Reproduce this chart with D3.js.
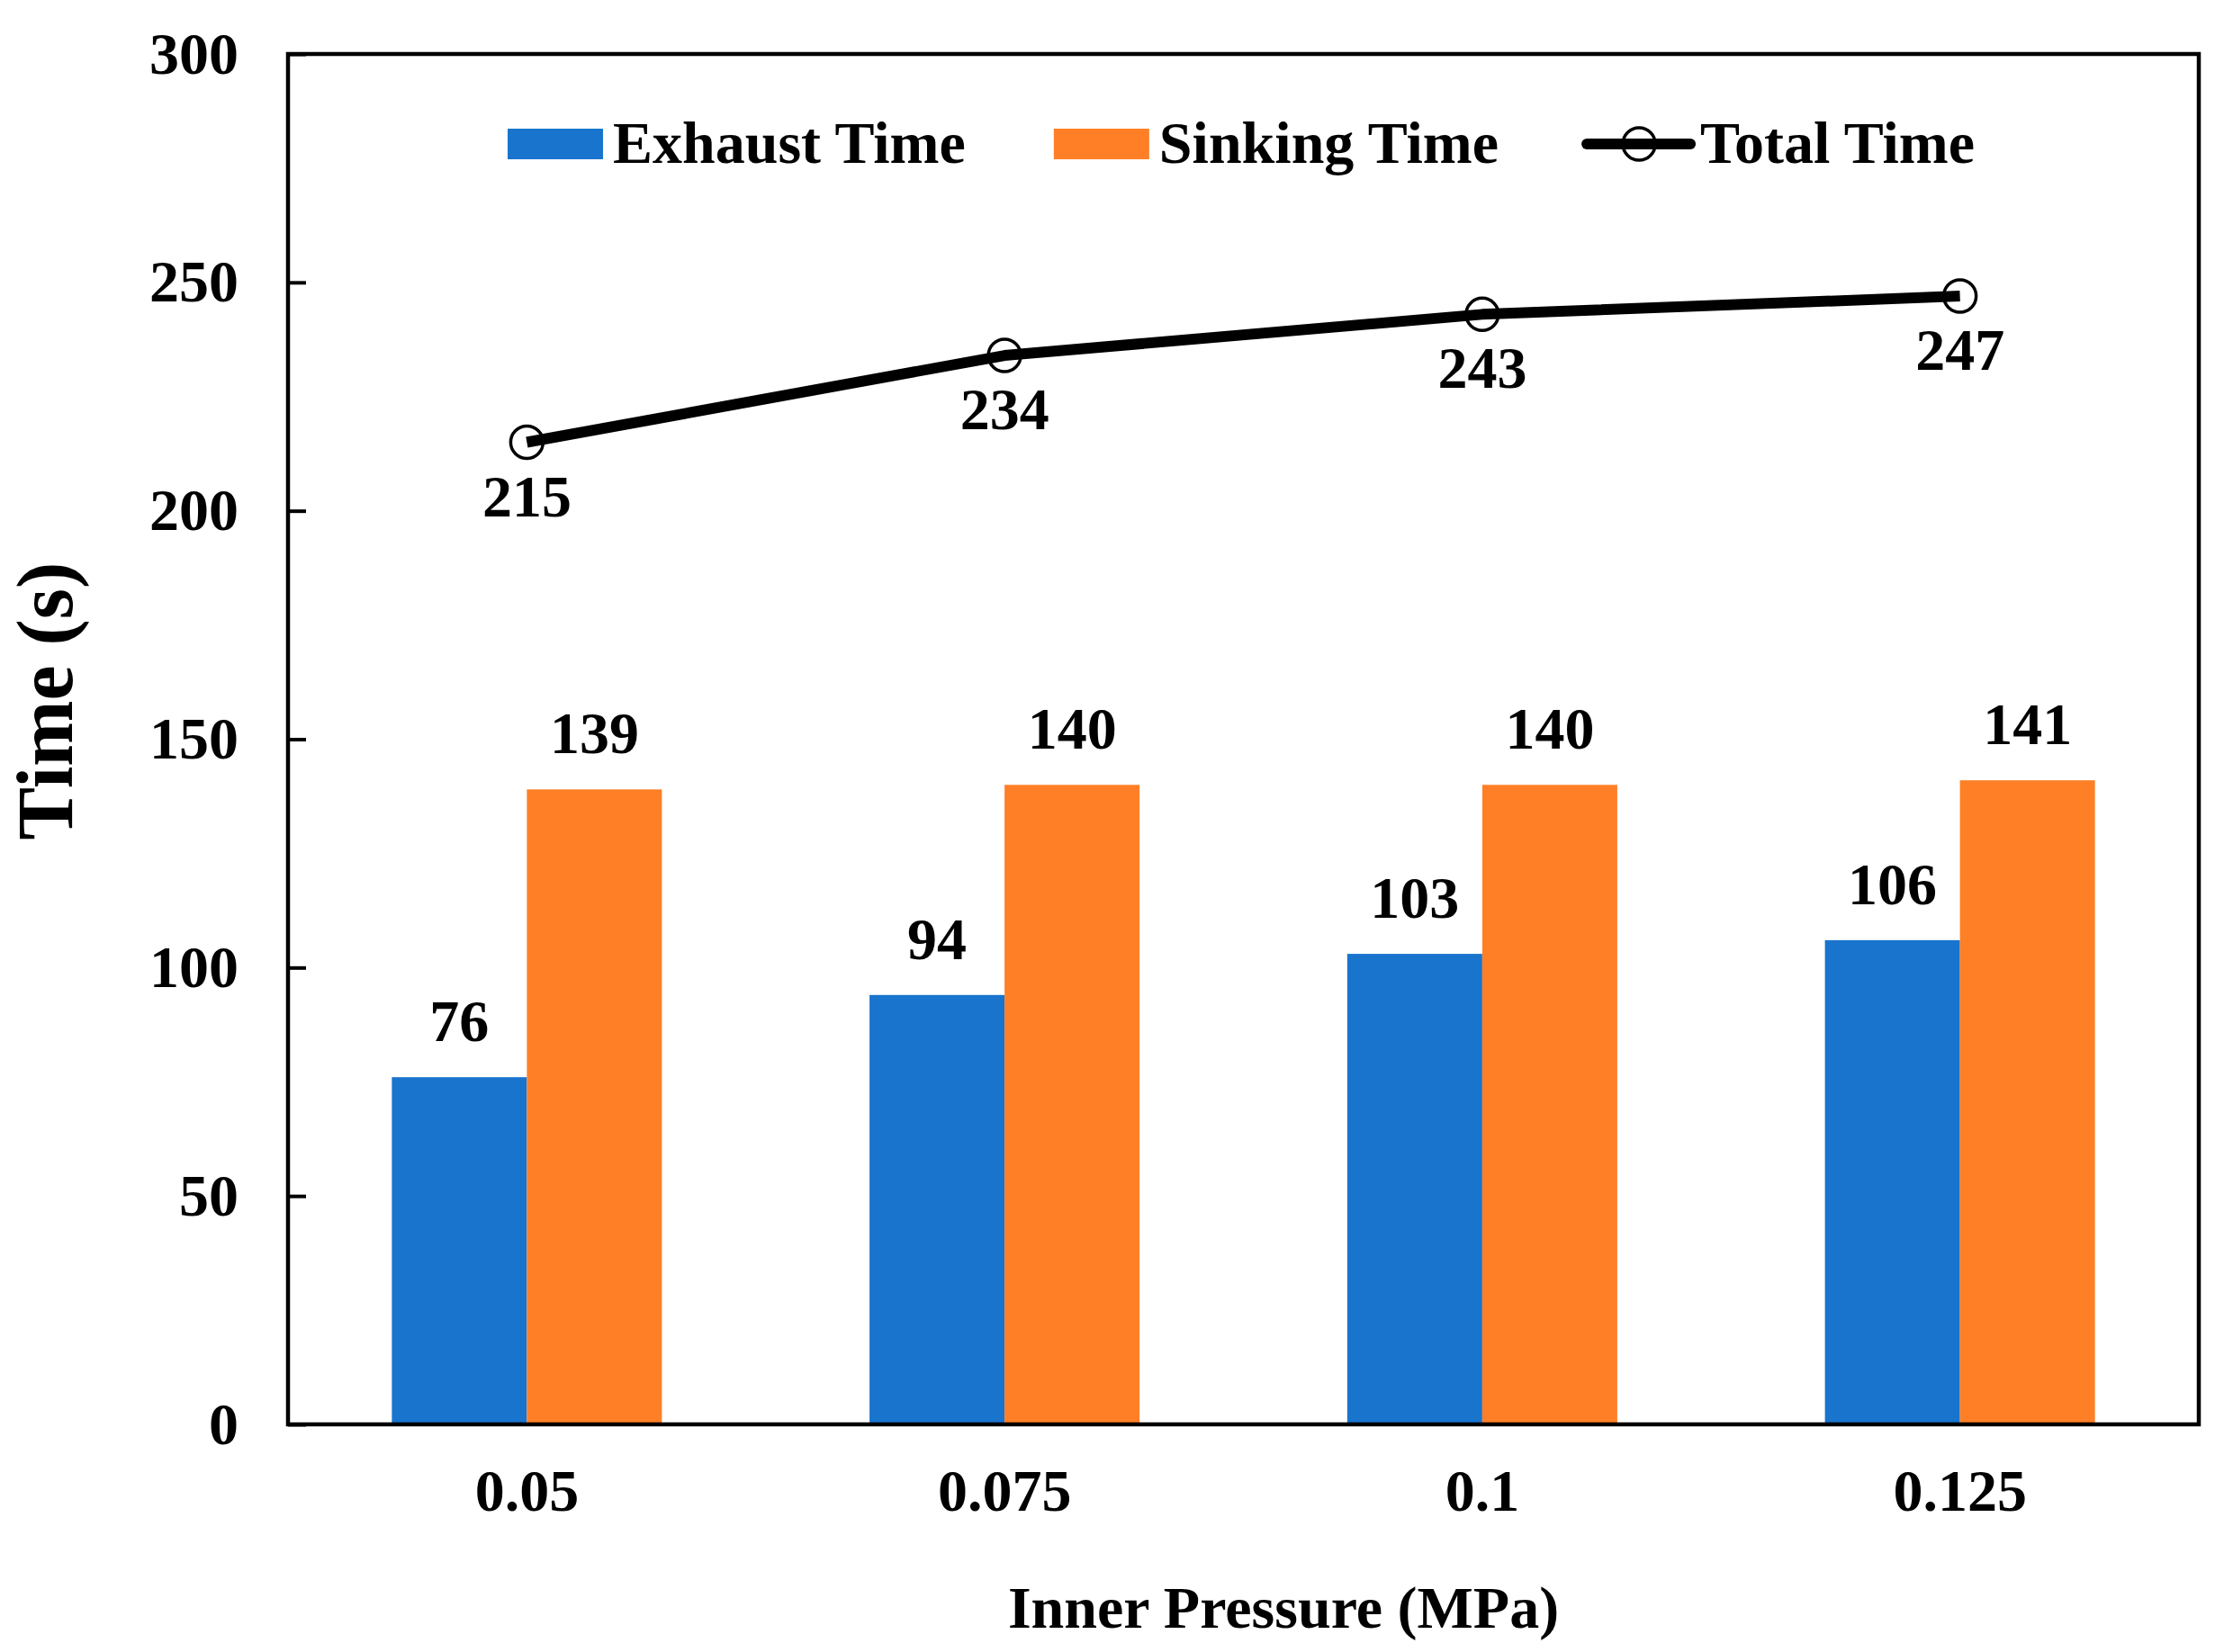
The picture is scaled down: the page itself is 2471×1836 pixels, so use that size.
<!DOCTYPE html>
<html>
<head>
<meta charset="utf-8">
<script src="https://cdnjs.cloudflare.com/ajax/libs/d3/7.8.5/d3.min.js"></script>
<style>
  body { margin: 0; background: #fff; }
  text { font-family: "Liberation Serif", "Times New Roman", serif; font-weight: bold; fill: #000; }
</style>
</head>
<body>
<div id="chart"></div>
<script>
// chart data
var pressures = ["0.05", "0.075", "0.1", "0.125"];
var seriesNames = ["Exhaust Time", "Sinking Time"];
var exhaustTime = [76, 94, 103, 106];
var sinkingTime = [139, 140, 140, 141];
var totalTime = [215, 234, 243, 247];
var yTicks = [0, 50, 100, 150, 200, 250, 300];

var W = 2471, H = 1836;
var m = {left: 320, top: 60, right: 2443, bottom: 1583};
var colors = {"Exhaust Time": "#1874cd", "Sinking Time": "#ff7f27"};
var fontSize = 66;

var svg = d3.select("#chart").append("svg")
	.attr("width", W)
	.attr("height", H);

var x0 = d3.scaleBand().domain(pressures).range([m.left, m.right]).padding(0);
// two bars of ~150px in a band of ~531px
var x1 = d3.scaleBand().domain(seriesNames).range([0, x0.bandwidth()])
	.paddingInner(0).paddingOuter(0.769);
var y = d3.scaleLinear().domain([0, 300]).range([m.bottom, m.top]);

var rows = pressures.map(function(p, i) {
	return {p: p, vals: [
		{name: "Exhaust Time", v: exhaustTime[i]},
		{name: "Sinking Time", v: sinkingTime[i]}
	], total: totalTime[i]};
});

// bars
var groups = svg.selectAll(".grp").data(rows).enter().append("g")
	.attr("class", "grp")
	.attr("transform", function(d) { return "translate(" + x0(d.p) + ",0)"; });

groups.selectAll("rect").data(function(d) { return d.vals; }).enter().append("rect")
	.attr("x", function(d) { return x1(d.name); })
	.attr("width", x1.bandwidth())
	.attr("y", function(d) { return y(d.v); })
	.attr("height", function(d) { return y(0) - y(d.v); })
	.attr("fill", function(d) { return colors[d.name]; });

groups.selectAll(".blab").data(function(d) { return d.vals; }).enter().append("text")
	.attr("class", "blab")
	.attr("x", function(d) { return x1(d.name) + x1.bandwidth() / 2; })
	.attr("y", function(d) { return y(d.v) - 40; })
	.attr("text-anchor", "middle")
	.style("font-size", fontSize + "px")
	.text(function(d) { return d.v; });

// y axis, ticks inside
var yAxis = d3.axisLeft(y).tickValues(yTicks).tickSize(-20).tickPadding(55);
var gy = svg.append("g").attr("transform", "translate(" + m.left + ",0)").call(yAxis);
gy.select(".domain").remove();
gy.selectAll(".tick line").attr("stroke", "#000").attr("stroke-width", 4);
gy.selectAll(".tick text")
	.style("font-size", fontSize + "px")
	.style("font-family", "Liberation Serif")
	.style("font-weight", "bold")
	.attr("fill", "#000");

// x axis, labels only
var xAxis = d3.axisBottom(x0).tickSize(0).tickPadding(49);
var gx = svg.append("g").attr("transform", "translate(0," + m.bottom + ")").call(xAxis);
gx.select(".domain").remove();
gx.selectAll(".tick text")
	.style("font-size", fontSize + "px")
	.style("font-family", "Liberation Serif")
	.style("font-weight", "bold")
	.attr("fill", "#000");

// plot frame
svg.append("rect")
	.attr("x", m.left).attr("y", m.top)
	.attr("width", m.right - m.left).attr("height", m.bottom - m.top)
	.attr("fill", "none").attr("stroke", "#000").attr("stroke-width", 4.5);

// total time line
var cx = function(d) { return x0(d.p) + x0.bandwidth() / 2; };
var line = d3.line().x(cx).y(function(d) { return y(d.total); });

svg.append("path").datum(rows)
	.attr("d", line)
	.attr("fill", "none")
	.attr("stroke", "#000")
	.attr("stroke-width", 12)
	.attr("stroke-linejoin", "round");

svg.selectAll(".pt").data(rows).enter().append("circle")
	.attr("class", "pt")
	.attr("cx", cx)
	.attr("cy", function(d) { return y(d.total); })
	.attr("r", 18)
	.attr("fill", "none")
	.attr("stroke", "#000")
	.attr("stroke-width", 3.5);

svg.selectAll(".tlab").data(rows).enter().append("text")
	.attr("class", "tlab")
	.attr("x", cx)
	.attr("y", function(d) { return y(d.total) + 82; })
	.attr("text-anchor", "middle")
	.style("font-size", fontSize + "px")
	.text(function(d) { return d.total; });

// legend
var legendItems = [
	{name: "Exhaust Time", type: "bar"},
	{name: "Sinking Time", type: "bar"},
	{name: "Total Time", type: "line"}
];
var lx = 564, ly = 160;
legendItems.forEach(function(item) {
	var g = svg.append("g");
	if (item.type === "bar") {
		g.append("rect")
			.attr("x", lx).attr("y", ly - 17)
			.attr("width", 106).attr("height", 34)
			.attr("fill", colors[item.name]);
		lx += 106;
	} else {
		g.append("line")
			.attr("x1", lx).attr("x2", lx + 115)
			.attr("y1", ly).attr("y2", ly)
			.attr("stroke", "#000").attr("stroke-width", 12).attr("stroke-linecap", "round");
		g.append("circle")
			.attr("cx", lx + 58).attr("cy", ly).attr("r", 18)
			.attr("fill", "none").attr("stroke", "#000").attr("stroke-width", 3.5);
		lx += 115;
	}
	var t = g.append("text")
		.attr("x", lx + 11).attr("y", ly + 21)
		.style("font-size", fontSize + "px")
		.text(item.name);
	lx += 11 + t.node().getComputedTextLength() + 98;
});

// axis titles
svg.append("text")
	.attr("x", 1426).attr("y", 1809)
	.attr("text-anchor", "middle")
	.style("font-size", fontSize + "px")
	.text("Inner Pressure (MPa)");

svg.append("text")
	.attr("transform", "translate(80,779) rotate(-90)")
	.attr("text-anchor", "middle")
	.style("font-size", "88px")
	.text("Time (s)");
</script>
</body>
</html>
